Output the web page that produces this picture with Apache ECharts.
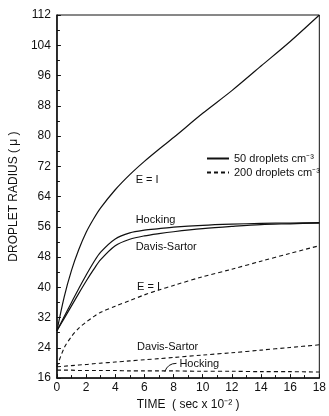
<!DOCTYPE html>
<html>
<head>
<meta charset="utf-8">
<script src="https://cdn.jsdelivr.net/npm/echarts@6/dist/echarts.min.js"></script>
<style>
  html,body{margin:0;padding:0;background:#fff;}
  #main{width:329px;height:416px;}
</style>
</head>
<body>
<div id="main"></div>
<script>
// time (sec x 10^-2)
var times = [0, 0.5, 1, 1.5, 2, 2.5, 3, 4, 5, 6, 7, 8, 10, 12, 14, 16, 18];

// 50 droplets cm-3 (solid)
var e1Solid      = [28.5, 37.5, 44.5, 50, 54.5, 58, 61, 65.8, 69.8, 73.3, 76.5, 79.6, 86, 92, 98.5, 105, 112];
var hockingSolid = [28.5, 32.3, 36, 39.7, 43.2, 46.5, 49.3, 52.8, 54.4, 55.1, 55.5, 55.9, 56.4, 56.7, 56.9, 57, 57.1];
var davisSolid   = [28.5, 31.8, 35.1, 38.4, 41.6, 44.6, 47.3, 51, 52.7, 53.6, 54.2, 54.7, 55.5, 56.1, 56.6, 56.8, 57];

// 200 droplets cm-3 (dashed)
var e1Dash      = [19, 24, 27, 29.2, 30.8, 32.2, 33.4, 35, 36.5, 38, 39.3, 40.5, 42.8, 44.8, 46.9, 49, 51];
var davisDash   = [19, 19.15, 19.3, 19.45, 19.6, 19.8, 19.95, 20.25, 20.55, 20.85, 21.15, 21.45, 22.1, 22.7, 23.4, 24.1, 24.8];
var hockingDash = [18.1, 18.1, 18.1, 18, 18, 18, 18, 18, 17.9, 17.9, 17.9, 17.9, 17.8, 17.8, 17.7, 17.7, 17.6];

var legendNames = ['50 droplets cm⁻³', '200 droplets cm⁻³'];

// curve labels [text, t, value]
var curveLabels = [
    ['E = I', 5.4, 68.4],
    ['Hocking', 5.4, 57.7],
    ['Davis-Sartor', 5.4, 50.7],
    ['E = I', 5.5, 40],
    ['Davis-Sartor', 5.5, 24.1],
    ['Hocking', 8.4, 19.7]
];

function pairs(ys){
    var out = [];
    for (var i = 0; i < times.length; i++) out.push([times[i], ys[i]]);
    return out;
}

var FONT = 'Liberation Sans';
var solid = {color:'#111', width:1.2, type:'solid'};
var dash  = {color:'#111', width:1.1, type:[4,3]};

function mk(name, ys, ls){
    return {
        name: name, type:'line', data: pairs(ys), smooth:0.3,
        showSymbol:false, symbol:'none', lineStyle: ls, itemStyle:{color:'#111'},
        silent:true, animation:false
    };
}

var myChart = echarts.init(document.getElementById('main'));
myChart.setOption({
    backgroundColor:'#fff',
    animation:false,
    textStyle:{fontFamily:FONT, color:'#111'},
    grid:{left:43, right:3, top:15, bottom:33, show:true, borderColor:'#111', borderWidth:1},
    legend:{
        data: legendNames, orient:'vertical', left:201, top:148,
        itemWidth:22, itemHeight:8, itemGap:3,
        itemStyle:{opacity:0},
        textStyle:{fontSize:11, color:'#111', fontFamily:FONT}
    },
    xAxis:{
        type:'value', min:0, max:18, interval:2,
        name:'TIME  ( sec x 10⁻² )', nameLocation:'middle', nameGap:20,
        nameTextStyle:{fontSize:12, color:'#111', fontFamily:FONT},
        axisLine:{lineStyle:{color:'#111', width:1.5}},
        axisTick:{inside:true, length:4, lineStyle:{color:'#111'}},
        minorTick:{show:true, splitNumber:2, length:3, lineStyle:{color:'#111'}},
        splitLine:{show:false},
        axisLabel:{fontSize:12, color:'#111', margin:4, fontFamily:FONT}
    },
    yAxis:{
        type:'value', min:16, max:112, interval:8,
        name:'DROPLET RADIUS ( μ )', nameLocation:'middle', nameGap:31,
        nameTextStyle:{fontSize:12, color:'#111', fontFamily:FONT},
        axisLine:{lineStyle:{color:'#111', width:1.5}},
        axisTick:{inside:true, length:4, lineStyle:{color:'#111'}},
        minorTick:{show:true, splitNumber:2, length:3, lineStyle:{color:'#111'}},
        splitLine:{show:false},
        axisLabel:{fontSize:12, color:'#111', margin:6, fontFamily:FONT}
    },
    series:[
        mk(legendNames[0], e1Solid, solid),
        mk('Hocking 50', hockingSolid, solid),
        mk('Davis-Sartor 50', davisSolid, solid),
        mk(legendNames[1], e1Dash, dash),
        mk('Davis-Sartor 200', davisDash, dash),
        mk('Hocking 200', hockingDash, dash)
    ]
});

// curve annotations, placed from data coordinates
var gr = [];
curveLabels.forEach(function(l){
    var p = myChart.convertToPixel({gridIndex:0}, [l[1], l[2]]);
    gr.push({type:'text', x:p[0], y:p[1], silent:true,
        style:{text:l[0], fill:'#111', font:'11px "' + FONT + '"', textVerticalAlign:'middle'}});
});
// small leader to lower Hocking curve
var a = myChart.convertToPixel({gridIndex:0}, [7.4, 17.7]);
var c = myChart.convertToPixel({gridIndex:0}, [7.6, 19.9]);
var b = myChart.convertToPixel({gridIndex:0}, [8.2, 19.9]);
gr.push({type:'bezierCurve', silent:true,
    shape:{x1:a[0], y1:a[1], x2:b[0], y2:b[1], cpx1:c[0], cpy1:c[1]},
    style:{stroke:'#111', lineWidth:1, fill:null}});
myChart.setOption({graphic: gr});
</script>
</body>
</html>
